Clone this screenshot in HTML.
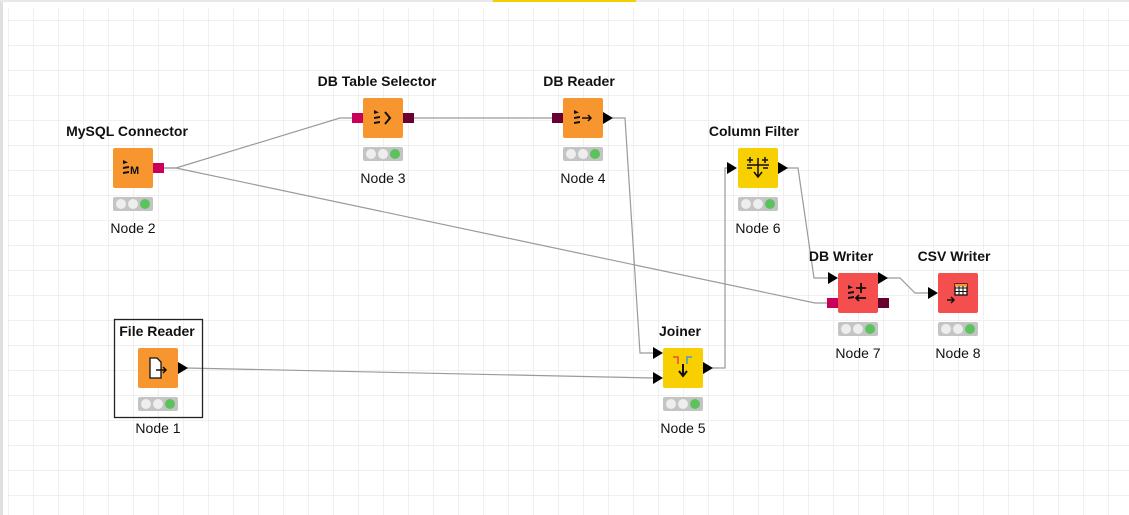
<!DOCTYPE html>
<html><head><meta charset="utf-8"><style>
html,body{margin:0;padding:0;background:#fff}
svg{display:block}
text{font-family:"Liberation Sans",Arial,sans-serif}
.t{font-size:14px;font-weight:bold;fill:#111;text-anchor:middle}
.n{font-size:14px;fill:#111;text-anchor:middle}
</style></head><body>
<svg width="1129" height="515" viewBox="0 0 1129 515" xmlns="http://www.w3.org/2000/svg">
<defs>
<pattern id="g" x="8" y="20" width="25" height="25" patternUnits="userSpaceOnUse">
<path d="M0 0H25M0 0V25" stroke="#ebebeb" stroke-width="1.5" fill="none"/>
</pattern>
<g id="st"><rect x="0" y="0" width="40" height="14" rx="2" fill="#c4c4c4"/><circle cx="8" cy="7" r="5" fill="#eeeeee"/><circle cx="20" cy="7" r="5" fill="#eeeeee"/><circle cx="32" cy="7" r="5" fill="#5cc25c"/></g>
<g id="db"><path d="M0 0L5 2.5L0 4Z" fill="#111"/><path d="M0 7L6 6L6 8L0 9Z" fill="#111"/><path d="M0 12L6 11L6 13L0 14Z" fill="#111"/></g>
</defs>
<rect width="1129" height="515" fill="#fff"/>
<rect x="8" y="8" width="1121" height="507" fill="url(#g)"/>
<rect x="0" y="0" width="3" height="515" fill="#e0e0e0"/>
<rect x="0" y="0" width="1129" height="2" fill="#e8e8e8"/>
<rect x="493" y="0" width="143" height="2" fill="#f5d000"/>

<g stroke="#9a9a9a" stroke-width="1.2" fill="none">
<polyline points="164,168 176,168 340,118 352,118"/>
<polyline points="164,168 176,168 815,303 827,303"/>
<polyline points="414,118 552,118"/>
<polyline points="612,118 625,118 640,353 653,353"/>
<polyline points="186,368 653,378"/>
<polyline points="712,368 725,368 725,168 728,168"/>
<polyline points="787,168 798,168 814,278 828,278"/>
<polyline points="887,278 900,278 915,293 928,293"/>
</g>

<!-- Node 2 MySQL -->
<text class="t" x="127" y="136">MySQL Connector</text>
<rect x="113" y="148" width="40" height="40" rx="2" fill="#f7962f"/>
<use href="#db" x="123" y="160"/>
<text x="130" y="174" font-size="11" font-weight="bold" fill="#111">M</text>
<rect x="153" y="163" width="11" height="10" fill="#c8005a"/>
<use href="#st" x="113" y="197"/>
<text class="n" x="133" y="233">Node 2</text>

<!-- Node 3 -->
<text class="t" x="377" y="86">DB Table Selector</text>
<rect x="363" y="98" width="40" height="40" rx="2" fill="#f7962f"/>
<use href="#db" x="374" y="110"/>
<path d="M385 112L390 118L385 124" stroke="#111" stroke-width="2" fill="none"/>
<rect x="352" y="113" width="11" height="10" fill="#c8005a"/>
<rect x="403" y="113" width="11" height="10" fill="#6a0030"/>
<use href="#st" x="363" y="147"/>
<text class="n" x="383" y="183">Node 3</text>

<!-- Node 4 -->
<text class="t" x="579" y="86">DB Reader</text>
<rect x="563" y="98" width="40" height="40" rx="2" fill="#f7962f"/>
<use href="#db" x="574" y="110"/>
<path d="M582 118H591M588 115L591 118L588 121" stroke="#111" stroke-width="1.5" fill="none"/>
<rect x="552" y="113" width="11" height="10" fill="#6a0030"/>
<polygon points="603,112 613,118 603,124" fill="#000"/>
<use href="#st" x="563" y="147"/>
<text class="n" x="583" y="183">Node 4</text>

<!-- Node 6 -->
<text class="t" x="754" y="136">Column Filter</text>
<rect x="738" y="148" width="40" height="40" rx="2" fill="#f8cf00"/>
<path d="M747 160H753M750 157V163M762 160H768M765 157V163M747 165H769M758 158V176M754 172L758 177L762 172M747 168H752M763 168H768" stroke="#111" stroke-width="1.5" fill="none"/>
<polygon points="727,162 737,168 727,174" fill="#000"/>
<polygon points="778,162 788,168 778,174" fill="#000"/>
<use href="#st" x="738" y="197"/>
<text class="n" x="758" y="233">Node 6</text>

<!-- Node 7 -->
<text class="t" x="841" y="261">DB Writer</text>
<rect x="838" y="273" width="40" height="40" rx="2" fill="#f44e4e"/>
<use href="#db" x="848" y="285"/>
<path d="M856 288H866M861 283V293M856 298H866M859 295L856 298L859 301" stroke="#111" stroke-width="1.8" fill="none"/>
<polygon points="828,272 838,278 828,284" fill="#000"/>
<rect x="827" y="298" width="11" height="10" fill="#c8005a"/>
<polygon points="878,272 888,278 878,284" fill="#000"/>
<rect x="878" y="298" width="11" height="10" fill="#6a0030"/>
<use href="#st" x="838" y="322"/>
<text class="n" x="858" y="358">Node 7</text>

<!-- Node 8 -->
<text class="t" x="954" y="261">CSV Writer</text>
<rect x="938" y="273" width="40" height="40" rx="2" fill="#f44e4e"/>
<rect x="955" y="284" width="12" height="11" fill="#fff" stroke="#111" stroke-width="1.3"/>
<rect x="955" y="284" width="12" height="2.5" fill="#f7962f"/>
<path d="M955 288H967M955 291.5H967M959 286V295M963 286V295" stroke="#111" stroke-width="1"/>
<path d="M947 300H954M951 297L954 300L951 303" stroke="#111" stroke-width="1.5" fill="none"/>
<polygon points="928,287 938,293 928,299" fill="#000"/>
<use href="#st" x="938" y="322"/>
<text class="n" x="958" y="358">Node 8</text>

<!-- Node 5 Joiner -->
<text class="t" x="680" y="336">Joiner</text>
<rect x="663" y="348" width="40" height="40" rx="2" fill="#f8cf00"/>
<path d="M673 357H678V364" stroke="#e0503a" stroke-width="1.5" fill="none"/>
<path d="M692 357H687V364" stroke="#4a9ac8" stroke-width="1.5" fill="none"/>
<path d="M683 364V375M679 371L683 376L687 371" stroke="#111" stroke-width="2" fill="none"/>
<polygon points="653,347 663,353 653,359" fill="#000"/>
<polygon points="653,372 663,378 653,384" fill="#000"/>
<polygon points="703,362 713,368 703,374" fill="#000"/>
<use href="#st" x="663" y="397"/>
<text class="n" x="683" y="433">Node 5</text>

<!-- Node 1 File Reader -->
<rect x="114.5" y="319.5" width="88" height="98" fill="none" stroke="#222" stroke-width="1.3"/>
<text class="t" x="157" y="336">File Reader</text>
<rect x="138" y="348" width="40" height="40" rx="2" fill="#f7962f"/>
<path d="M150 358H157L161 362V378H150Z" fill="#fff" stroke="#111" stroke-width="1.3"/>
<path d="M156 370H166M163 367L166 370L163 373" stroke="#111" stroke-width="1.5" fill="none"/>
<polygon points="178,362 188,368 178,374" fill="#000"/>
<use href="#st" x="138" y="397"/>
<text class="n" x="158" y="433">Node 1</text>
</svg>
</body></html>
